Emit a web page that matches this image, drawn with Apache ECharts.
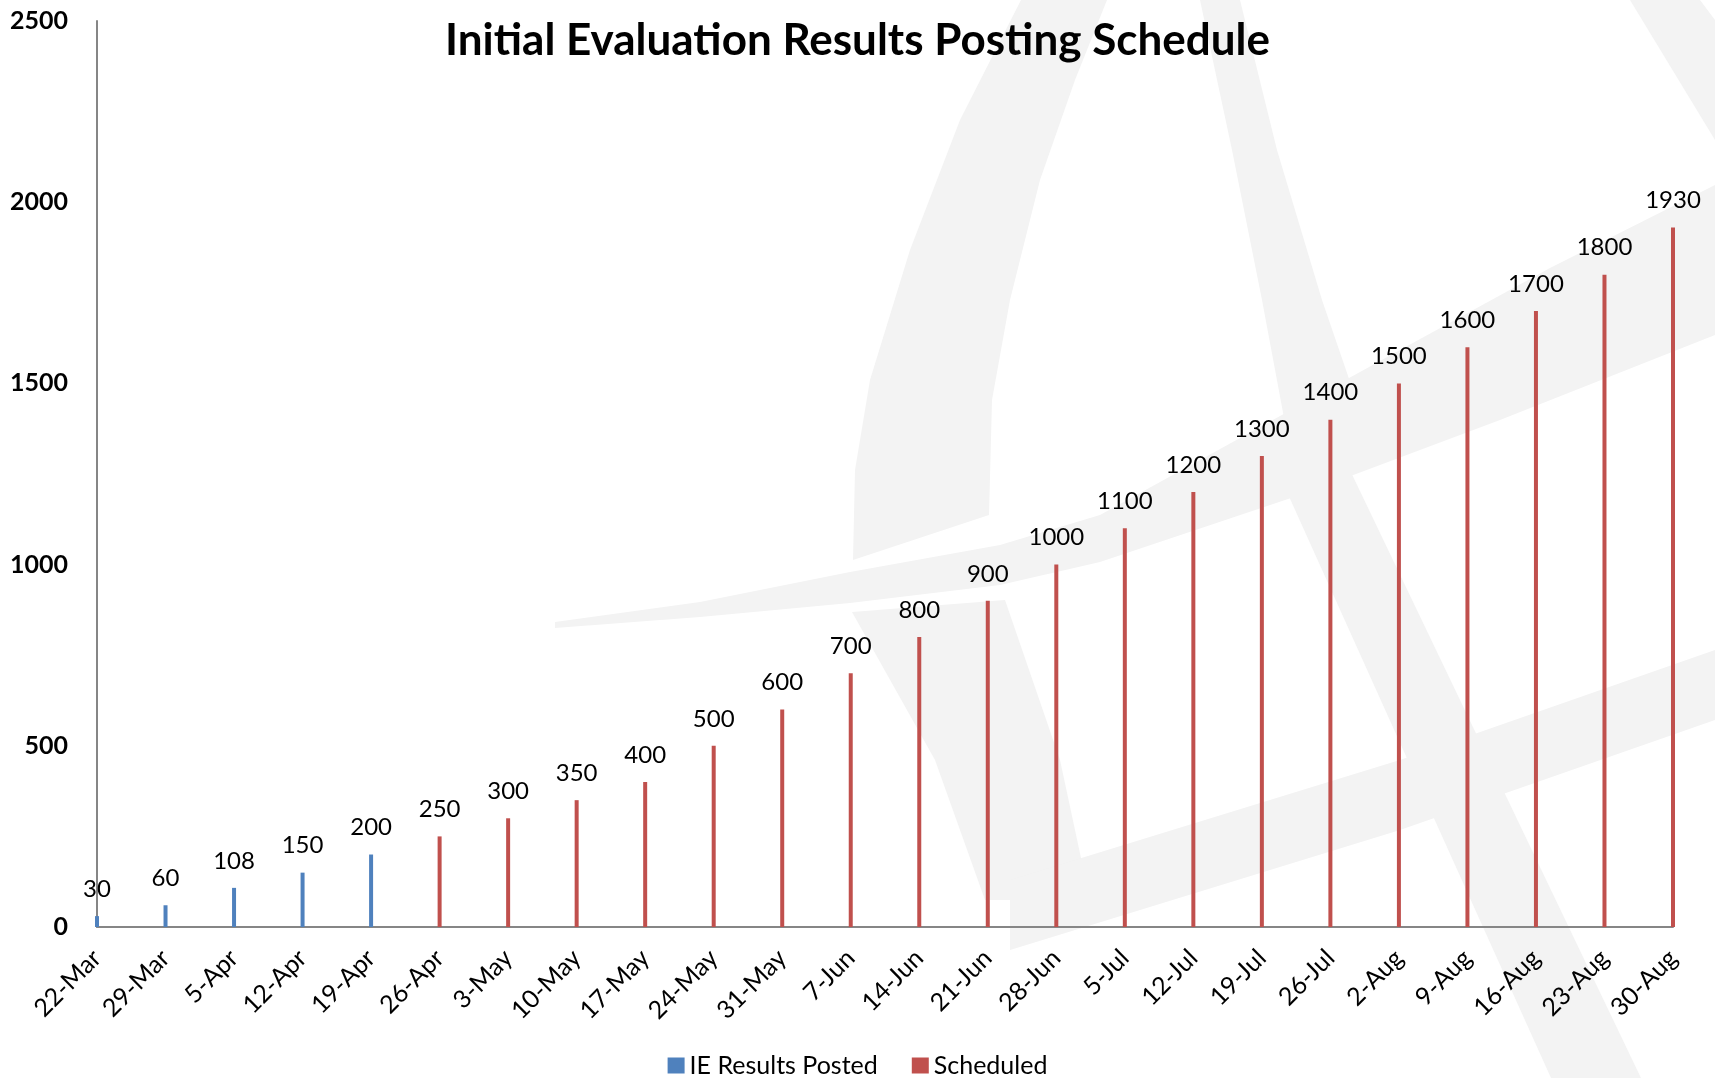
<!DOCTYPE html>
<html>
<head>
<meta charset="utf-8">
<script src="https://cdn.jsdelivr.net/npm/echarts@6/dist/echarts.min.js"></script>
<style>
html,body{margin:0;padding:0;background:#fff;}
#chart{width:1715px;height:1078px;}
</style>
</head>
<body>
<div id="chart"></div>
<script>
const categories = ['22-Mar','29-Mar','5-Apr','12-Apr','19-Apr','26-Apr','3-May','10-May','17-May','24-May','31-May','7-Jun','14-Jun','21-Jun','28-Jun','5-Jul','12-Jul','19-Jul','26-Jul','2-Aug','9-Aug','16-Aug','23-Aug','30-Aug'];
const postedValues = [30,60,108,150,200,null,null,null,null,null,null,null,null,null,null,null,null,null,null,null,null,null,null,null];
const scheduledValues = [null,null,null,null,null,250,300,350,400,500,600,700,800,900,1000,1100,1200,1300,1400,1500,1600,1700,1800,1930];
const yTicks = [0,500,1000,1500,2000,2500];

const FONT = 'Lato';
const WM = '#f3f3f3';
function wm(points){ return {type:'polygon', z:-10, silent:true, shape:{points:points}, style:{fill:WM}}; }
const chart = echarts.init(document.getElementById('chart'));
const labelCfg = {show:true, position:'top', distance:15, color:'#000', fontSize:24, fontFamily:FONT};
chart.setOption({
  animation:false,
  backgroundColor:'#fff',
  graphic:[
    wm([[1021,0],[960,120],[910,250],[870,380],[855,470],[853,560],[989,515],[992,400],[1010,300],[1040,180],[1075,80],[1107,0]]),
    wm([[1200,0],[1232,150],[1262,300],[1290,450],[1370,440],[1322,300],[1277,150],[1240,0]]),
    wm([[555,622],[700,602],[850,572],[1000,545],[1100,515],[1191,465],[1400,350],[1550,268],[1715,185],
        [1715,335],[1500,420],[1300,495],[1100,562],[1000,585],[850,603],[700,617],[555,628]]),
    wm([[852,612],[1005,600],[1060,760],[1090,900],[985,900],[935,760]]),
    wm([[1264,441],[1336,441],[1641,1078],[1551,1078]]),
    wm([[1010,880],[1400,760],[1715,650],[1715,720],[1400,830],[1010,950]]),
    wm([[1630,0],[1700,0],[1715,20],[1715,140]])
  ],
  title:{text:'Initial Evaluation Results Posting Schedule', left:'center', top:14,
    textStyle:{fontFamily:FONT, fontWeight:'bold', fontSize:44, color:'#000'}},
  legend:{bottom:0, left:'center', padding:0, itemWidth:17, itemHeight:16, itemGap:34,
    icon:'rect', textStyle:{fontFamily:FONT, fontSize:25, color:'#000'},
    data:['IE Results Posted','Scheduled']},
  grid:{left:97, right:42, top:21, bottom:151, containLabel:false},
  xAxis:{type:'category', data:categories, boundaryGap:false,
    axisLine:{lineStyle:{color:'#868686', width:2}}, axisTick:{show:false},
    axisLabel:{rotate:45, fontFamily:FONT, fontSize:25, color:'#000', margin:27, interval:0}},
  yAxis:{type:'value', min:yTicks[0], max:yTicks[yTicks.length-1], interval:500,
    axisLine:{show:true, lineStyle:{color:'#868686', width:2}}, axisTick:{show:false},
    splitLine:{show:false},
    axisLabel:{fontFamily:FONT, fontWeight:'bold', fontSize:25, color:'#000', margin:29,
      formatter:function(v){return String(v);}}},
  series:[
    {name:'IE Results Posted', type:'bar', stack:'s', data:postedValues, barWidth:4,
      itemStyle:{color:'#4F81BD'}, label:labelCfg},
    {name:'Scheduled', type:'bar', stack:'s', data:scheduledValues, barWidth:4,
      itemStyle:{color:'#C0504D'}, label:labelCfg}
  ]
});
</script>
</body>
</html>
